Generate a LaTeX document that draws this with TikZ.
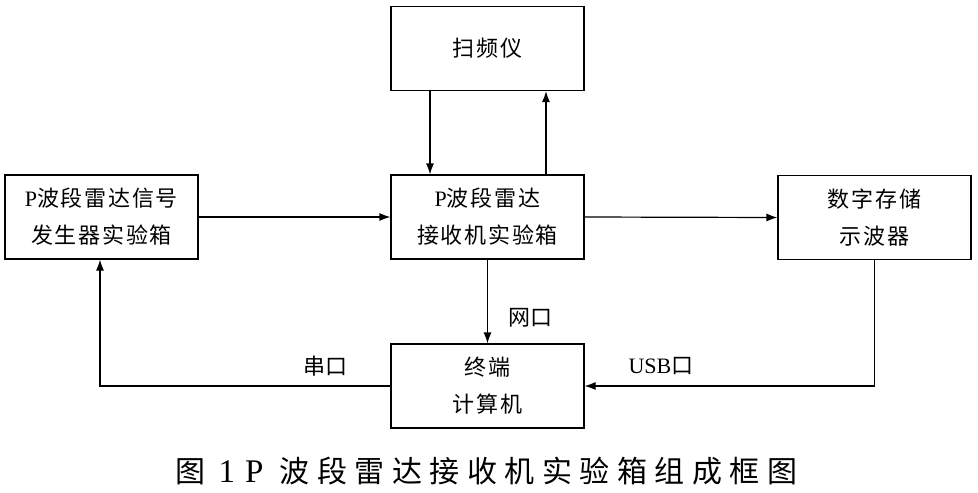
\documentclass[tikz,border=0pt]{standalone}
\usepackage{fontspec}
\setmainfont{Liberation Serif}
\newfontfamily\cjk{Noto Sans CJK SC}
\newfontfamily\cjkbox[LetterSpace=8]{Noto Sans CJK SC}
\newfontfamily\cjkcap[LetterSpace=25]{Noto Sans CJK SC}
\usepackage{tikz}
\usetikzlibrary{positioning,arrows.meta}
\newcommand{\lat}[1]{{\rmfamily #1}}
\newcommand{\latcap}[1]{{\fontsize{33}{34}\rmfamily #1}}

\begin{document}
\begin{tikzpicture}[
    x=1pt, y=1pt,
    block/.style={rectangle, draw=black, line width=1.2pt, minimum width=193pt, minimum height=84pt, align=center, text centered, font=\fontsize{22}{37}\cjkbox},
    lbl/.style={font=\fontsize{22}{26}\cjk, inner sep=0pt},
    arrow/.style={-{Latex[length=11pt,width=8pt]}, line width=1.2pt}
]
\useasboundingbox (0,0) rectangle (978,-493);

% Blocks
\node (sweep) [block] at (487.5,-48.5) {扫频仪};
\node (recv) [block] at (487.5,-217) {\lat{P}波段雷达\\接收机实验箱};
\node (gen) [block] at (101.5,-217) {\lat{P}波段雷达信号\\发生器实验箱};
\node (scope) [block] at (874.5,-217.5) {数字存储\\示波器};
\node (pc) [block] at (487.5,-386) {终端\\计算机};

% Arrows
\draw[arrow] ([xshift=-57.5pt]sweep.south) -- ([xshift=-57.5pt]recv.north);
\draw[arrow] ([xshift=58.5pt]recv.north) -- ([xshift=58.5pt]sweep.south);
\draw[arrow] (gen.east) -- (recv.west);
\draw[arrow] (recv.east) -- (scope.west);
\draw[arrow] (recv.south) -- (pc.north);
\draw[arrow] (scope.south) |- (pc.east);
\draw[arrow] (pc.west) -| ([xshift=-1.5pt]gen.south);

% Labels
\node (net) [lbl] at (530,-318) {网口};
\node (usb) [lbl] at (661,-366) {\lat{USB}口};
\node (serial) [lbl] at (325,-366) {串口};

% Caption
\node (cap) [inner sep=0pt, anchor=west, font=\fontsize{30}{34}\cjkcap] at (175.5,-471) {图\hspace{13pt}\latcap{1}\hspace{10pt}\latcap{P}\hspace{16pt}波段雷达接收机实验箱组成框图};

\end{tikzpicture}
\end{document}
